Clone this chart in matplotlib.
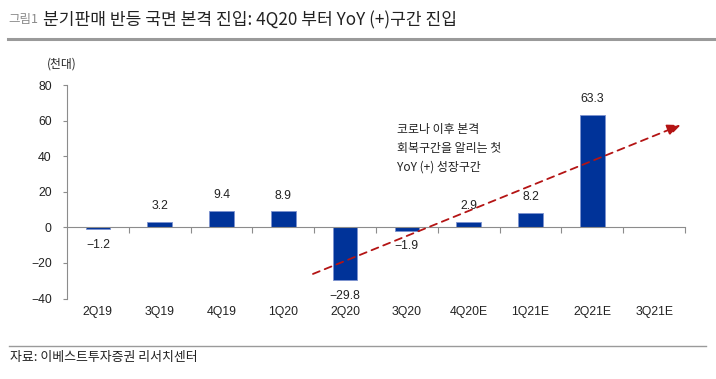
import matplotlib
matplotlib.use('Agg')
import matplotlib.pyplot as plt
from matplotlib.lines import Line2D

plt.rcParams['font.family'] = ['Liberation Sans', 'Noto Sans CJK KR', 'DejaVu Sans']
plt.rcParams['axes.unicode_minus'] = True

quarters = ['2Q19', '3Q19', '4Q19', '1Q20', '2Q20', '3Q20', '4Q20E', '1Q21E', '2Q21E', '3Q21E']
sales_yoy = [-1.2, 3.2, 9.4, 8.9, -29.8, -1.9, 2.9, 8.2, 63.3, None]
y_ticks = [-40, -20, 0, 20, 40, 60, 80]

kr = ['Noto Sans CJK KR', 'DejaVu Sans']
bar_color = '#003399'
axis_color = '#8c8c8c'
arrow_color = '#b41414'

fig = plt.figure(figsize=(7.16, 3.79), dpi=100)
ax = fig.add_axes([67 / 716, 1 - 298.5 / 379, (685 - 67) / 716, (298.5 - 85) / 379])

xs = [i for i, v in enumerate(sales_yoy) if v is not None]
vals = [v for v in sales_yoy if v is not None]
ax.bar(xs, vals, width=0.4, color=bar_color, edgecolor='#7d93cf', linewidth=0.6, zorder=2)

for x, v in zip(xs, vals):
    off = 7 if v >= 0 else -7
    ax.annotate(f'{v:.1f}'.replace('-', '\u2212'), (x, v), xytext=(0, off),
                textcoords='offset points', ha='center',
                va='bottom' if v >= 0 else 'top', fontsize=8.8, color='#222222')

ax.set_xlim(-0.5, len(quarters) - 0.5)
ax.set_ylim(-40, 80)
ax.set_yticks(y_ticks)
ax.tick_params(axis='y', direction='out', length=3, color=axis_color, labelsize=8.8,
               labelcolor='#222222', pad=8)

# category axis sits on the zero line, labels below the plot
ax.spines['bottom'].set_position(('data', 0))
ax.spines['bottom'].set_color(axis_color)
ax.spines['left'].set_color(axis_color)
ax.spines['top'].set_visible(False)
ax.spines['right'].set_visible(False)
ax.set_xticks([i + 0.5 for i in range(len(quarters))])
ax.tick_params(axis='x', direction='out', length=4, color=axis_color, labelbottom=False)
for i, q in enumerate(quarters):
    ax.text(i, -0.063, q, transform=ax.get_xaxis_transform(), ha='center', va='center',
            fontsize=8.8, color='#222222')

# trend arrow
ax.annotate('', xy=(9.43, 57.5), xytext=(3.48, -26.2),
            arrowprops=dict(arrowstyle='-|>,head_length=0.8,head_width=0.35', color=arrow_color,
                            linestyle=(0, (4, 3)), linewidth=1.3, shrinkA=0, shrinkB=0),
            zorder=3)
ax.text(4.84, 58.5, '코로나 이후 본격\n회복구간을 알리는 첫\nYoY (+) 성장구간', ha='left', va='top',
        fontsize=8.6, family=kr, color='#222222', linespacing=1.55)

# unit
fig.text(62 / 716, 1 - 64 / 379, '(천대)', ha='center', va='center', fontsize=8.5,
         family=kr, color='#222222')

# title block
fig.text(8 / 716, 1 - 20 / 379, '그림1', ha='left', va='center', fontsize=9,
         family=kr, color='#8a8a8a')
fig.text(43 / 716, 1 - 20 / 379, '분기판매 반등 국면 본격 진입: 4Q20 부터 YoY (+)구간 진입', ha='left',
         va='center', fontsize=12.3, family=kr, color='#222222')
fig.add_artist(Line2D([8 / 716, 1.0], [1 - 39 / 379] * 2, color='#9a9a9a', linewidth=2.2,
                      transform=fig.transFigure))

# source
fig.add_artist(Line2D([9 / 716, 706 / 716], [1 - 346 / 379] * 2, color='#9a9a9a', linewidth=1,
                      transform=fig.transFigure))
fig.text(10 / 716, 1 - 358 / 379, '자료: 이베스트투자증권 리서치센터', ha='left', va='center',
         fontsize=9.3, family=kr, color='#222222')

fig.savefig('out.png', dpi=100)
plt.close(fig)
